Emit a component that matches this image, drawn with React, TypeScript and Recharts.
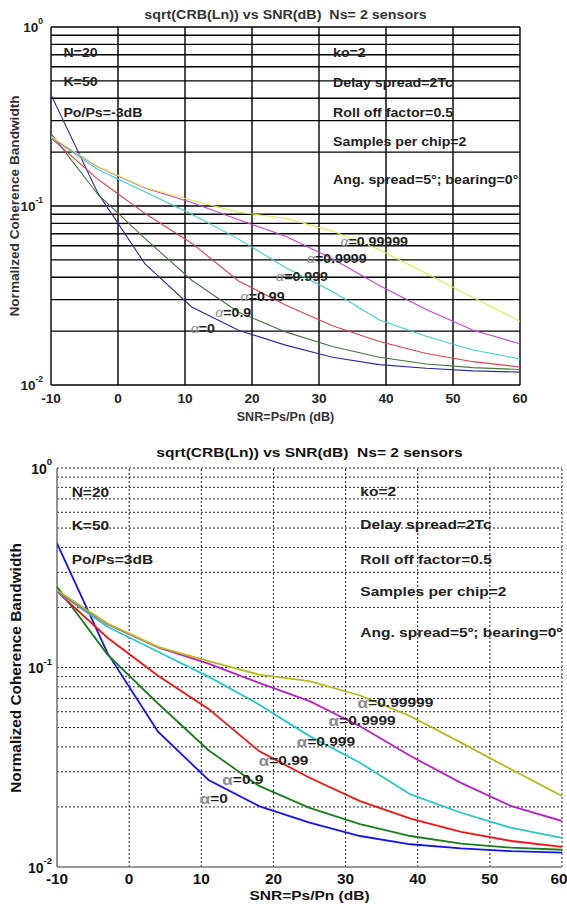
import React from 'react'
import { LineChart, Line, XAxis, YAxis, ReferenceLine, ReferenceDot } from 'recharts'

// SNR points (dB)
const snr = [-10, -3, 4, 11, 18, 25, 32, 39, 46, 53, 60]

// sqrt(CRB) per forgetting factor alpha
const alpha0 = [0.419, 0.118, 0.0477, 0.0273, 0.0202, 0.0167, 0.0143, 0.013, 0.0124, 0.012, 0.0118]
const alpha09 = [0.254, 0.116, 0.066, 0.0385, 0.0255, 0.0198, 0.0164, 0.0143, 0.0131, 0.0125, 0.0122]
const alpha099 = [0.24, 0.141, 0.091, 0.062, 0.0381, 0.028, 0.0214, 0.0175, 0.015, 0.0135, 0.0126]
const alpha0999 = [0.24, 0.16, 0.12, 0.09, 0.0653, 0.0453, 0.0333, 0.0231, 0.0187, 0.0157, 0.014]
const alpha09999 = [0.242, 0.165, 0.126, 0.1045, 0.0838, 0.0678, 0.0508, 0.036, 0.0264, 0.0202, 0.017]
const alpha099999 = [0.244, 0.166, 0.127, 0.1076, 0.0922, 0.0855, 0.0724, 0.057, 0.042, 0.0308, 0.0227]

const xTicks = [-10, 0, 10, 20, 30, 40, 50, 60]
const yTicks = [0.01, 0.1, 1]
const yGrid = [0.02, 0.03, 0.04, 0.05, 0.06, 0.07, 0.08, 0.09, 0.1, 0.2, 0.3, 0.4, 0.5, 0.6, 0.7, 0.8, 0.9, 1]
const xGrid = [0, 10, 20, 30, 40, 50, 60]

const seriesKeys = ['a0', 'a09', 'a099', 'a0999', 'a09999', 'a099999']
const alphaNames = ['0', '0.9', '0.99', '0.999', '0.9999', '0.99999']

const data = snr.map((s, i) => ({
  snr: s,
  a0: alpha0[i],
  a09: alpha09[i],
  a099: alpha099[i],
  a0999: alpha0999[i],
  a09999: alpha09999[i],
  a099999: alpha099999[i]
}))

// text annotations in data coordinates [snr, value]
const leftNotes = ['N=20', 'K=50']
const rightNotes = ['ko=2', 'Delay spread=2Tc', 'Roll off factor=0.5', 'Samples per chip=2']

const topLeftPos = [[-8.15, 0.725], [-8.15, 0.5], [-8.15, 0.336]]
const topRightPos = [[32.1, 0.727], [32.1, 0.495], [32.1, 0.336], [32.1, 0.229], [32.1, 0.1415]]
const topAlphaPos = [[10.85, 0.0209], [14.5, 0.0255], [18.3, 0.0314], [23.6, 0.0408], [28.2, 0.051], [33.2, 0.064]]

const botLeftPos = [[-7.97, 0.755], [-7.97, 0.518], [-7.97, 0.3485]]
const botRightPos = [[32.05, 0.761], [32.05, 0.522], [32.05, 0.35], [32.05, 0.24], [32.05, 0.15]]
const botAlphaPos = [[9.78, 0.0221], [12.92, 0.0275], [17.96, 0.0341], [23.22, 0.0425], [27.65, 0.0541], [31.67, 0.0669]]

const FONT = 'Liberation Sans, Arial, Helvetica, sans-serif'

const TOP_COLORS = ['#2b2b9c', '#3d7a3d', '#dd4444', '#3fcfcf', '#c244cc', '#e6e650']
const BOT_COLORS = ['#1414f0', '#1b7d1b', '#f01414', '#2cc6c6', '#b424c4', '#b9b91e']

// stretched text, the scanned figures are wider than tall
function SText({ x, y, sx, size, anchor = 'start', color, rotate = 0, children }: any) {
  return (
    <g transform={`translate(${x} ${y}) rotate(${rotate}) scale(${sx} 1)`}>
      <text x={0} y={0} textAnchor={anchor} dominantBaseline="central" fontFamily={FONT} fontWeight="bold"
        fontSize={size} fill={color} style={{ whiteSpace: 'pre' }}>
        {children}
      </text>
    </g>
  )
}

function makeYTick(fontSize: number, supSize: number, gap: number, color: string) {
  return (props: any) => {
    const { x, y, payload } = props
    const exp = Math.round(Math.log10(payload.value))
    return (
      <text x={x - gap} y={y} textAnchor="end" fontFamily={FONT} fontWeight="bold" fill={color} fontSize={fontSize}>
        <tspan dy={fontSize * 0.4}>10</tspan>
        <tspan dy={-fontSize * 0.6} fontSize={supSize}>{exp}</tspan>
      </text>
    )
  }
}

function makeXTick(fontSize: number, offset: number, sx: number, color: string) {
  return (props: any) => {
    const { x, y, payload } = props
    return (
      <SText x={x} y={y + offset} sx={sx} size={fontSize} anchor="middle" color={color}>
        {payload.value}
      </SText>
    )
  }
}

function noteShape(text: string, fontSize: number, sx: number, color: string) {
  return (p: any) => (
    <SText x={p.cx} y={p.cy} sx={sx} size={fontSize} color={color}>{text}</SText>
  )
}

function alphaShape(name: string, fontSize: number, sx: number, color: string, italic: boolean) {
  return (p: any) => (
    <SText x={p.cx} y={p.cy} sx={sx} size={fontSize} color={color}>
      <tspan fill="#8a8a8a" fontStyle={italic ? 'italic' : 'normal'} fontWeight={italic ? 'normal' : 'bold'} fontSize={italic ? fontSize : fontSize * 1.1}>α</tspan>
      <tspan>={name}</tspan>
    </SText>
  )
}

function TopChart() {
  const fs = 13.5
  const sx = 1.05
  return (
    <div style={{ position: 'absolute', left: 0, top: 0, width: 567, height: 420 }}>
      <LineChart width={567} height={420} data={data} margin={{ top: 27, right: 47, bottom: 0, left: 0 }}>
        <XAxis dataKey="snr" type="number" domain={[-10, 60]} ticks={xTicks} allowDataOverflow
          axisLine={false} tickLine={false} tickSize={0} tickMargin={0} height={35}
          tick={makeXTick(13, 14, 1.05, '#222')} />
        <YAxis type="number" scale="log" domain={[0.01, 1]} ticks={yTicks} allowDataOverflow
          axisLine={false} tickLine={false} tickSize={0} tickMargin={0} width={51}
          tick={makeYTick(13.5, 8.5, 8, '#222')} />
        {yGrid.map(v => (
          <ReferenceLine key={'gy' + v} y={v} stroke="#000" strokeWidth={1.4} />
        ))}
        {xGrid.map(v => (
          <ReferenceLine key={'gx' + v} x={v} stroke="#000" strokeWidth={1.4} />
        ))}
        <ReferenceLine x={-10} stroke="#000" strokeWidth={1.4} />
        <ReferenceLine y={0.01} stroke="#000" strokeWidth={1.4} />
        {seriesKeys.map((k, i) => (
          <Line key={k} dataKey={k} type="linear" stroke={TOP_COLORS[i]} strokeWidth={1.1} dot={false} isAnimationActive={false} />
        ))}
        {leftNotes.concat(['Po/Ps=-3dB']).map((t, i) => (
          <ReferenceDot key={'tl' + i} x={topLeftPos[i][0]} y={topLeftPos[i][1]} r={0} shape={noteShape(t, fs, sx, '#222')} />
        ))}
        {rightNotes.concat(['Ang. spread=5°; bearing=0°']).map((t, i) => (
          <ReferenceDot key={'tr' + i} x={topRightPos[i][0]} y={topRightPos[i][1]} r={0} shape={noteShape(t, fs, sx, '#222')} />
        ))}
        {alphaNames.map((n, i) => (
          <ReferenceDot key={'ta' + i} x={topAlphaPos[i][0]} y={topAlphaPos[i][1]} r={0} shape={alphaShape(n, fs, sx, '#222', true)} />
        ))}
      </LineChart>
      <svg width={567} height={436} style={{ position: 'absolute', left: 0, top: 0, pointerEvents: 'none', overflow: 'visible' }}>
        <SText x={285.5} y={15} sx={1.1} size={13} anchor="middle" color="#333">
          {'sqrt(CRB(Ln)) vs SNR(dB)  Ns= 2 sensors'}
        </SText>
        <SText x={15} y={206} sx={1.05} size={13} anchor="middle" color="#333" rotate={-90}>
          Normalized Coherence Bandwidth
        </SText>
        <SText x={285.5} y={417} sx={1.05} size={12} anchor="middle" color="#333">
          SNR=Ps/Pn (dB)
        </SText>
      </svg>
    </div>
  )
}

function BottomChart() {
  const fs = 13.5
  const sx = 1.15
  return (
    <div style={{ position: 'absolute', left: 0, top: 440, width: 567, height: 464 }}>
      <LineChart width={567} height={464} data={data} margin={{ top: 28, right: 5, bottom: 0, left: 0 }}>
        <XAxis dataKey="snr" type="number" domain={[-10, 60]} ticks={xTicks} allowDataOverflow
          axisLine={false} tickLine={false} tickSize={0} tickMargin={0} height={37}
          tick={makeXTick(14, 12, 1.1, '#111')} />
        <YAxis type="number" scale="log" domain={[0.01, 1]} ticks={yTicks} allowDataOverflow
          axisLine={false} tickLine={false} tickSize={0} tickMargin={0} width={57}
          tick={makeYTick(14, 9.5, 5, '#111')} />
        {yGrid.map(v => (
          <ReferenceLine key={'gy' + v} y={v} stroke="#222" strokeWidth={1} strokeDasharray="2 2" />
        ))}
        {xGrid.map(v => (
          <ReferenceLine key={'gx' + v} x={v} stroke="#222" strokeWidth={1} strokeDasharray="2 2" />
        ))}
        <ReferenceLine x={-10} stroke="#777" strokeWidth={1.6} />
        <ReferenceLine y={0.01} stroke="#777" strokeWidth={1.6} />
        {seriesKeys.map((k, i) => (
          <Line key={k} dataKey={k} type="linear" stroke={BOT_COLORS[i]} strokeWidth={1.8} dot={false} isAnimationActive={false} />
        ))}
        {leftNotes.concat(['Po/Ps=3dB']).map((t, i) => (
          <ReferenceDot key={'bl' + i} x={botLeftPos[i][0]} y={botLeftPos[i][1]} r={0} shape={noteShape(t, fs, sx, '#222')} />
        ))}
        {rightNotes.concat(['Ang. spread=5º; bearing=0º']).map((t, i) => (
          <ReferenceDot key={'br' + i} x={botRightPos[i][0]} y={botRightPos[i][1]} r={0} shape={noteShape(t, fs, sx, '#222')} />
        ))}
        {alphaNames.map((n, i) => (
          <ReferenceDot key={'ba' + i} x={botAlphaPos[i][0]} y={botAlphaPos[i][1]} r={0} shape={alphaShape(n, fs, sx, '#222', false)} />
        ))}
      </LineChart>
      <svg width={567} height={464} style={{ position: 'absolute', left: 0, top: 0, pointerEvents: 'none' }}>
        <SText x={309.5} y={12} sx={1.15} size={13.5} anchor="middle" color="#111">
          {'sqrt(CRB(Ln)) vs SNR(dB)  Ns= 2 sensors'}
        </SText>
        <SText x={16} y={228} sx={1.1} size={14} anchor="middle" color="#111" rotate={-90}>
          Normalized Coherence Bandwidth
        </SText>
        <SText x={309.5} y={455} sx={1.15} size={13.5} anchor="middle" color="#111">
          SNR=Ps/Pn (dB)
        </SText>
      </svg>
    </div>
  )
}

export default function App() {
  return (
    <div style={{ position: 'absolute', left: 0, top: 0, width: 567, height: 904, background: '#fff' }}>
      <TopChart />
      <BottomChart />
    </div>
  )
}
